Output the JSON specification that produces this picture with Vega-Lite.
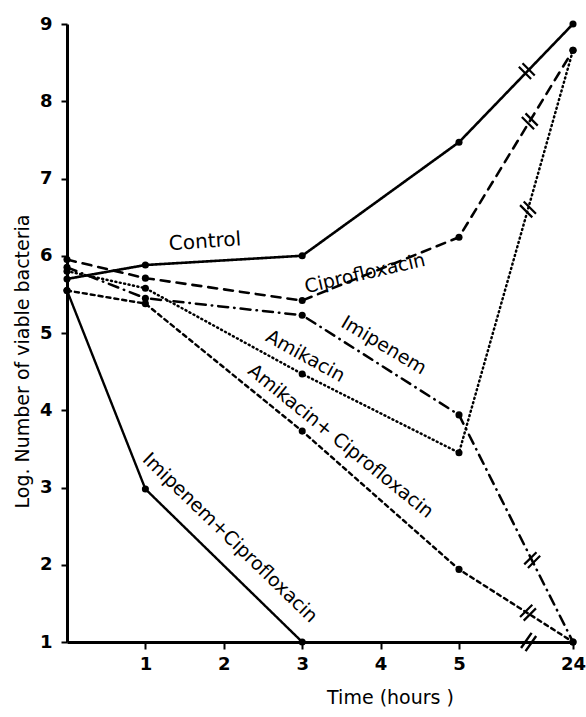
{
  "$schema": "https://vega.github.io/schema/vega-lite/v6.json",
  "width": 506,
  "height": 618,
  "autosize": "none",
  "padding": {"left": 67, "top": 24, "right": 13, "bottom": 75},
  "background": "white",
  "config": {
    "view": {"stroke": null},
    "font": "DejaVu Sans",
    "axis": {
      "grid": false,
      "domainColor": "black",
      "domainWidth": 3,
      "tickColor": "black",
      "tickWidth": 2,
      "tickSize": 7,
      "labelColor": "black",
      "labelFont": "DejaVu Sans",
      "labelFontWeight": "bold",
      "labelFontSize": 18,
      "titleColor": "black",
      "titleFont": "DejaVu Sans",
      "titleFontWeight": "normal",
      "titleFontSize": 19
    }
  },
  "datasets": {
    "curves": [
      {"series": "Control", "t": 0, "v": 5.7},
      {"series": "Control", "t": 1, "v": 5.88},
      {"series": "Control", "t": 3, "v": 6.0},
      {"series": "Control", "t": 5, "v": 7.47},
      {"series": "Control", "t": 24, "v": 9.0},
      {"series": "Ciprofloxacin", "t": 0, "v": 5.95},
      {"series": "Ciprofloxacin", "t": 1, "v": 5.71},
      {"series": "Ciprofloxacin", "t": 3, "v": 5.42},
      {"series": "Ciprofloxacin", "t": 5, "v": 6.24},
      {"series": "Ciprofloxacin", "t": 24, "v": 8.66},
      {"series": "Imipenem", "t": 0, "v": 5.85},
      {"series": "Imipenem", "t": 1, "v": 5.45},
      {"series": "Imipenem", "t": 3, "v": 5.23},
      {"series": "Imipenem", "t": 5, "v": 3.94},
      {"series": "Imipenem", "t": 24, "v": 1.0},
      {"series": "Amikacin", "t": 0, "v": 5.8},
      {"series": "Amikacin", "t": 1, "v": 5.58},
      {"series": "Amikacin", "t": 3, "v": 4.47},
      {"series": "Amikacin", "t": 5, "v": 3.45},
      {"series": "Amikacin", "t": 24, "v": 8.66},
      {"series": "Amikacin+Ciprofloxacin", "t": 0, "v": 5.55},
      {"series": "Amikacin+Ciprofloxacin", "t": 1, "v": 5.38},
      {"series": "Amikacin+Ciprofloxacin", "t": 3, "v": 3.73},
      {"series": "Amikacin+Ciprofloxacin", "t": 5, "v": 1.94},
      {"series": "Amikacin+Ciprofloxacin", "t": 24, "v": 1.0},
      {"series": "Imipenem+Ciprofloxacin", "t": 0, "v": 5.55},
      {"series": "Imipenem+Ciprofloxacin", "t": 1, "v": 2.98},
      {"series": "Imipenem+Ciprofloxacin", "t": 3, "v": 1.0}
    ],
    "breaks": [
      {"series": "Control", "dir": "up", "t": 16.3, "v": 8.39},
      {"series": "Ciprofloxacin", "dir": "up", "t": 16.8, "v": 7.74},
      {"series": "Amikacin", "dir": "up", "t": 16.5, "v": 6.6},
      {"series": "Imipenem", "dir": "down", "t": 17.2, "v": 2.06},
      {"series": "Amikacin+Ciprofloxacin", "dir": "down", "t": 16.5, "v": 1.38},
      {"series": "axis", "dir": "axis", "t": 16.6, "v": 1.0}
    ]
  },
  "encoding": {
    "x": {
      "field": "t",
      "type": "quantitative",
      "scale": {"domain": [0, 5, 24], "range": [0, 392, 506], "nice": false, "zero": false},
      "axis": {
        "values": [1, 2, 3, 4, 5, 24],
        "title": "Time (hours )",
        "titleX": 323,
        "titleY": 46,
        "titleBaseline": "top",
        "labelPadding": 6,
        "labelFlush": false
      }
    },
    "y": {
      "field": "v",
      "type": "quantitative",
      "scale": {"domain": [1, 9], "nice": false, "zero": false},
      "axis": {
        "values": [1, 2, 3, 4, 5, 6, 7, 8, 9],
        "title": "Log. Number of viable bacteria",
        "titleX": -45,
        "titleY": 337,
        "titleAngle": -90,
        "titleAlign": "center",
        "titleBaseline": "middle",
        "labelPadding": 9,
        "tickSize": 6,
        "labelFlush": false
      }
    }
  },
  "layer": [
    {
      "data": {"name": "curves"},
      "mark": {"type": "line", "color": "black", "strokeCap": "round"},
      "encoding": {
        "order": {"field": "t", "type": "quantitative"},
        "strokeDash": {
          "field": "series",
          "type": "nominal",
          "scale": {
            "domain": ["Control", "Ciprofloxacin", "Imipenem", "Amikacin", "Amikacin+Ciprofloxacin", "Imipenem+Ciprofloxacin"],
            "range": [[1, 0], [9, 7], [10, 6, 0.5, 6], [1, 3.5], [4, 4], [1, 0]]
          },
          "legend": null
        },
        "strokeWidth": {
          "field": "series",
          "type": "nominal",
          "scale": {
            "domain": ["Control", "Ciprofloxacin", "Imipenem", "Amikacin", "Amikacin+Ciprofloxacin", "Imipenem+Ciprofloxacin"],
            "range": [2.6, 2.4, 2.2, 2.6, 2.4, 1.4]
          },
          "legend": null
        }
      }
    },
    {
      "data": {"name": "curves"},
      "mark": {"type": "point", "filled": true, "color": "black", "size": 50, "opacity": 1}
    },
    {
      "data": {"name": "breaks"},
      "transform": [{"filter": "datum.dir === 'up'"}],
      "mark": {"type": "point", "shape": "M -1 -0.3 L 1 -0.3 M -1 0.3 L 1 0.3", "filled": false, "stroke": "black", "strokeWidth": 2.2, "size": 300, "angle": 45, "opacity": 1}
    },
    {
      "data": {"name": "breaks"},
      "transform": [{"filter": "datum.dir === 'down'"}],
      "mark": {"type": "point", "shape": "M -1 -0.3 L 1 -0.3 M -1 0.3 L 1 0.3", "filled": false, "stroke": "black", "strokeWidth": 2.2, "size": 300, "angle": -45, "opacity": 1}
    },
    {
      "data": {"name": "breaks"},
      "transform": [{"filter": "datum.dir === 'axis'"}],
      "mark": {"type": "point", "shape": "M -1 -0.3 L 1 -0.3 M -1 0.3 L 1 0.3", "filled": false, "stroke": "black", "strokeWidth": 2.4, "size": 340, "angle": -55, "opacity": 1}
    },
    {
      "data": {"values": [{"label": "Control", "t": 1.76, "v": 6.18}]},
      "mark": {"type": "text", "angle": -4, "fontSize": 20, "color": "black", "align": "center", "baseline": "middle"},
      "encoding": {"text": {"field": "label"}}
    },
    {
      "data": {"values": [{"label": "Ciprofloxacin", "t": 3.8, "v": 5.77}]},
      "mark": {"type": "text", "angle": -13, "fontSize": 19, "color": "black", "align": "center", "baseline": "middle"},
      "encoding": {"text": {"field": "label"}}
    },
    {
      "data": {"values": [{"label": "Imipenem", "t": 4.04, "v": 4.84}]},
      "mark": {"type": "text", "angle": 31, "fontSize": 19, "color": "black", "align": "center", "baseline": "middle"},
      "encoding": {"text": {"field": "label"}}
    },
    {
      "data": {"values": [{"label": "Amikacin", "t": 3.04, "v": 4.7}]},
      "mark": {"type": "text", "angle": 29, "fontSize": 19, "color": "black", "align": "center", "baseline": "middle"},
      "encoding": {"text": {"field": "label"}}
    },
    {
      "data": {"values": [{"label": "Amikacin+ Ciprofloxacin", "t": 3.49, "v": 3.6}]},
      "mark": {"type": "text", "angle": 39, "fontSize": 19, "color": "black", "align": "center", "baseline": "middle"},
      "encoding": {"text": {"field": "label"}}
    },
    {
      "data": {"values": [{"label": "Imipenem+Ciprofloxacin", "t": 2.08, "v": 2.35}]},
      "mark": {"type": "text", "angle": 44, "fontSize": 19, "color": "black", "align": "center", "baseline": "middle"},
      "encoding": {"text": {"field": "label"}}
    }
  ]
}
